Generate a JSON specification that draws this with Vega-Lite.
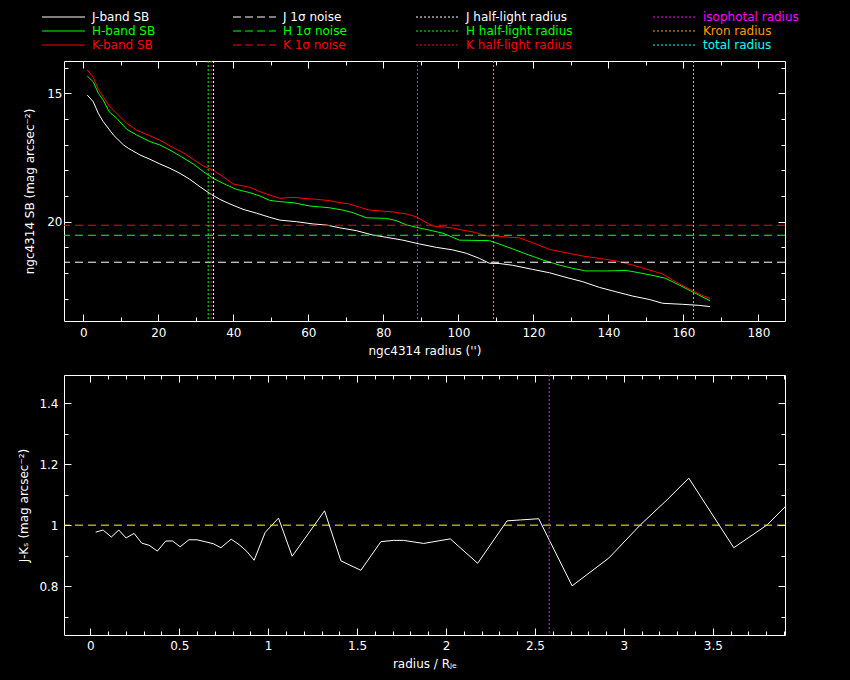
{
  "$schema": "https://vega.github.io/schema/vega-lite/v6.json",
  "background": "black",
  "padding": {"left": 17, "top": 10, "right": 68, "bottom": 12},
  "bounds": "flush",
  "spacing": 54,
  "config": {
    "view": {"stroke": "white", "strokeWidth": 1},
    "axis": {
      "domain": false, "grid": false, "tickColor": "white", "tickWidth": 1,
      "labelColor": "white", "titleColor": "white",
      "labelFont": "DejaVu Sans", "titleFont": "DejaVu Sans",
      "labelFontSize": 12, "titleFontSize": 12, "titleFontWeight": "normal",
      "labelOverlap": false, "labelFlush": false, "labelBound": false
    },
    "text": {"font": "DejaVu Sans"}
  },
  "datasets": {
    "sb": [
      {"band": "J", "r": 1.07, "sb": 15.07}, {"band": "J", "r": 2.66, "sb": 15.33}, {"band": "J", "r": 4.0, "sb": 15.78},
      {"band": "J", "r": 5.3, "sb": 16.10}, {"band": "J", "r": 8.0, "sb": 16.62}, {"band": "J", "r": 10.7, "sb": 17.01},
      {"band": "J", "r": 12.0, "sb": 17.14}, {"band": "J", "r": 15.1, "sb": 17.40}, {"band": "J", "r": 17.8, "sb": 17.57},
      {"band": "J", "r": 20.4, "sb": 17.75}, {"band": "J", "r": 23.1, "sb": 17.92}, {"band": "J", "r": 25.8, "sb": 18.12},
      {"band": "J", "r": 28.4, "sb": 18.35}, {"band": "J", "r": 31.1, "sb": 18.64}, {"band": "J", "r": 33.7, "sb": 18.90},
      {"band": "J", "r": 36.4, "sb": 19.13}, {"band": "J", "r": 39.1, "sb": 19.31}, {"band": "J", "r": 42.6, "sb": 19.52},
      {"band": "J", "r": 46.2, "sb": 19.67}, {"band": "J", "r": 49.7, "sb": 19.83}, {"band": "J", "r": 52.4, "sb": 19.94},
      {"band": "J", "r": 56.8, "sb": 20.00}, {"band": "J", "r": 61.3, "sb": 20.09}, {"band": "J", "r": 64.8, "sb": 20.13},
      {"band": "J", "r": 68.4, "sb": 20.24}, {"band": "J", "r": 72.8, "sb": 20.35}, {"band": "J", "r": 77.2, "sb": 20.52},
      {"band": "J", "r": 80.8, "sb": 20.61}, {"band": "J", "r": 85.2, "sb": 20.72}, {"band": "J", "r": 89.7, "sb": 20.87},
      {"band": "J", "r": 94.1, "sb": 21.00}, {"band": "J", "r": 98.5, "sb": 21.10}, {"band": "J", "r": 102.1, "sb": 21.23},
      {"band": "J", "r": 105.6, "sb": 21.43}, {"band": "J", "r": 108.3, "sb": 21.62}, {"band": "J", "r": 110.9, "sb": 21.63},
      {"band": "J", "r": 114.5, "sb": 21.70}, {"band": "J", "r": 119.8, "sb": 21.86}, {"band": "J", "r": 124.3, "sb": 21.99},
      {"band": "J", "r": 128.7, "sb": 22.17}, {"band": "J", "r": 133.2, "sb": 22.34}, {"band": "J", "r": 137.6, "sb": 22.56},
      {"band": "J", "r": 142.0, "sb": 22.73}, {"band": "J", "r": 146.5, "sb": 22.90}, {"band": "J", "r": 150.9, "sb": 23.03},
      {"band": "J", "r": 154.5, "sb": 23.18}, {"band": "J", "r": 159.8, "sb": 23.22}, {"band": "J", "r": 164.2, "sb": 23.26},
      {"band": "J", "r": 167.1, "sb": 23.31},
      {"band": "H", "r": 1.07, "sb": 14.33}, {"band": "H", "r": 2.66, "sb": 14.55}, {"band": "H", "r": 4.0, "sb": 15.00},
      {"band": "H", "r": 5.3, "sb": 15.26}, {"band": "H", "r": 6.9, "sb": 15.72}, {"band": "H", "r": 8.9, "sb": 15.97},
      {"band": "H", "r": 11.6, "sb": 16.40}, {"band": "H", "r": 14.2, "sb": 16.62}, {"band": "H", "r": 17.8, "sb": 16.88},
      {"band": "H", "r": 20.4, "sb": 17.01}, {"band": "H", "r": 23.1, "sb": 17.21}, {"band": "H", "r": 25.8, "sb": 17.44},
      {"band": "H", "r": 29.3, "sb": 17.75}, {"band": "H", "r": 32.0, "sb": 18.05}, {"band": "H", "r": 34.6, "sb": 18.31},
      {"band": "H", "r": 38.2, "sb": 18.57}, {"band": "H", "r": 40.8, "sb": 18.74}, {"band": "H", "r": 44.4, "sb": 18.87},
      {"band": "H", "r": 47.1, "sb": 19.00}, {"band": "H", "r": 49.7, "sb": 19.17}, {"band": "H", "r": 52.4, "sb": 19.22},
      {"band": "H", "r": 55.9, "sb": 19.26}, {"band": "H", "r": 60.4, "sb": 19.39}, {"band": "H", "r": 65.7, "sb": 19.46},
      {"band": "H", "r": 69.2, "sb": 19.55}, {"band": "H", "r": 71.9, "sb": 19.65}, {"band": "H", "r": 75.5, "sb": 19.85},
      {"band": "H", "r": 80.8, "sb": 19.87}, {"band": "H", "r": 83.5, "sb": 19.96}, {"band": "H", "r": 86.1, "sb": 20.12},
      {"band": "H", "r": 88.8, "sb": 20.22}, {"band": "H", "r": 92.3, "sb": 20.33}, {"band": "H", "r": 95.9, "sb": 20.45},
      {"band": "H", "r": 100.3, "sb": 20.72}, {"band": "H", "r": 108.3, "sb": 20.74}, {"band": "H", "r": 110.9, "sb": 20.87},
      {"band": "H", "r": 114.5, "sb": 21.06}, {"band": "H", "r": 118.1, "sb": 21.26}, {"band": "H", "r": 122.5, "sb": 21.49},
      {"band": "H", "r": 126.9, "sb": 21.69}, {"band": "H", "r": 130.5, "sb": 21.82}, {"band": "H", "r": 134.0, "sb": 21.92},
      {"band": "H", "r": 139.4, "sb": 21.92}, {"band": "H", "r": 144.7, "sb": 21.90}, {"band": "H", "r": 148.2, "sb": 21.99},
      {"band": "H", "r": 152.7, "sb": 22.12}, {"band": "H", "r": 155.3, "sb": 22.21}, {"band": "H", "r": 158.9, "sb": 22.47},
      {"band": "H", "r": 162.4, "sb": 22.73}, {"band": "H", "r": 167.1, "sb": 23.08},
      {"band": "K", "r": 1.07, "sb": 14.09}, {"band": "K", "r": 2.66, "sb": 14.38}, {"band": "K", "r": 4.0, "sb": 14.84},
      {"band": "K", "r": 5.3, "sb": 15.13}, {"band": "K", "r": 6.9, "sb": 15.49}, {"band": "K", "r": 8.9, "sb": 15.78},
      {"band": "K", "r": 11.6, "sb": 16.17}, {"band": "K", "r": 14.2, "sb": 16.43}, {"band": "K", "r": 17.8, "sb": 16.66},
      {"band": "K", "r": 20.4, "sb": 16.82}, {"band": "K", "r": 23.1, "sb": 17.05}, {"band": "K", "r": 26.6, "sb": 17.31},
      {"band": "K", "r": 29.3, "sb": 17.57}, {"band": "K", "r": 32.0, "sb": 17.83}, {"band": "K", "r": 34.6, "sb": 17.99},
      {"band": "K", "r": 37.3, "sb": 18.25}, {"band": "K", "r": 39.9, "sb": 18.53}, {"band": "K", "r": 44.4, "sb": 18.66},
      {"band": "K", "r": 47.1, "sb": 18.83}, {"band": "K", "r": 48.8, "sb": 18.92}, {"band": "K", "r": 52.4, "sb": 19.09},
      {"band": "K", "r": 55.9, "sb": 19.05}, {"band": "K", "r": 58.6, "sb": 19.09}, {"band": "K", "r": 62.2, "sb": 19.13},
      {"band": "K", "r": 65.7, "sb": 19.18}, {"band": "K", "r": 68.4, "sb": 19.26}, {"band": "K", "r": 71.0, "sb": 19.31},
      {"band": "K", "r": 73.7, "sb": 19.44}, {"band": "K", "r": 76.4, "sb": 19.55}, {"band": "K", "r": 79.9, "sb": 19.59},
      {"band": "K", "r": 82.6, "sb": 19.62}, {"band": "K", "r": 86.1, "sb": 19.70}, {"band": "K", "r": 88.8, "sb": 19.81},
      {"band": "K", "r": 90.6, "sb": 19.96}, {"band": "K", "r": 93.2, "sb": 20.17}, {"band": "K", "r": 95.9, "sb": 20.20},
      {"band": "K", "r": 98.5, "sb": 20.25}, {"band": "K", "r": 101.2, "sb": 20.33}, {"band": "K", "r": 103.9, "sb": 20.40},
      {"band": "K", "r": 107.4, "sb": 20.55}, {"band": "K", "r": 110.1, "sb": 20.56}, {"band": "K", "r": 113.6, "sb": 20.61},
      {"band": "K", "r": 116.3, "sb": 20.63}, {"band": "K", "r": 119.8, "sb": 20.82}, {"band": "K", "r": 124.3, "sb": 21.08},
      {"band": "K", "r": 128.7, "sb": 21.21}, {"band": "K", "r": 133.2, "sb": 21.34}, {"band": "K", "r": 137.6, "sb": 21.43},
      {"band": "K", "r": 142.0, "sb": 21.53}, {"band": "K", "r": 146.5, "sb": 21.69}, {"band": "K", "r": 150.9, "sb": 21.88},
      {"band": "K", "r": 154.5, "sb": 22.04}, {"band": "K", "r": 157.1, "sb": 22.27}, {"band": "K", "r": 160.7, "sb": 22.56},
      {"band": "K", "r": 164.2, "sb": 22.82}, {"band": "K", "r": 167.1, "sb": 22.99}
    ],
    "noise": [
      {"band": "J", "sb": 21.58}, {"band": "H", "sb": 20.53}, {"band": "K", "sb": 20.14}
    ],
    "radii": [
      {"band": "J", "r": 34.7}, {"band": "H", "r": 33.3}, {"band": "K", "r": 34.1},
      {"band": "iso", "r": 89.1}, {"band": "kron", "r": 109.4}, {"band": "total", "r": 162.7}
    ],
    "legend": [
      {"col": 0, "row": 1, "band": "J", "style": "solid", "label": "J-band SB"},
      {"col": 0, "row": 2, "band": "H", "style": "solid", "label": "H-band SB"},
      {"col": 0, "row": 3, "band": "K", "style": "solid", "label": "K-band SB"},
      {"col": 1, "row": 1, "band": "J", "style": "dashed", "label": "J 1σ noise"},
      {"col": 1, "row": 2, "band": "H", "style": "dashed", "label": "H 1σ noise"},
      {"col": 1, "row": 3, "band": "K", "style": "dashed", "label": "K 1σ noise"},
      {"col": 2, "row": 1, "band": "J", "style": "dotted", "label": "J half-light radius"},
      {"col": 2, "row": 2, "band": "H", "style": "dotted", "label": "H half-light radius"},
      {"col": 2, "row": 3, "band": "K", "style": "dotted", "label": "K half-light radius"},
      {"col": 3, "row": 1, "band": "iso", "style": "dotted", "label": "isophotal radius"},
      {"col": 3, "row": 2, "band": "kron", "style": "dotted", "label": "Kron radius"},
      {"col": 3, "row": 3, "band": "total", "style": "dotted", "label": "total radius"}
    ],
    "color": [
      {"rr": 0.030, "jk": 0.977}, {"rr": 0.072, "jk": 0.984}, {"rr": 0.118, "jk": 0.961}, {"rr": 0.160, "jk": 0.984},
      {"rr": 0.201, "jk": 0.958}, {"rr": 0.246, "jk": 0.973}, {"rr": 0.289, "jk": 0.941}, {"rr": 0.331, "jk": 0.934},
      {"rr": 0.377, "jk": 0.915}, {"rr": 0.424, "jk": 0.948}, {"rr": 0.463, "jk": 0.948}, {"rr": 0.505, "jk": 0.929},
      {"rr": 0.554, "jk": 0.952}, {"rr": 0.599, "jk": 0.952}, {"rr": 0.644, "jk": 0.946}, {"rr": 0.692, "jk": 0.939},
      {"rr": 0.734, "jk": 0.926}, {"rr": 0.792, "jk": 0.954}, {"rr": 0.837, "jk": 0.936}, {"rr": 0.880, "jk": 0.914},
      {"rr": 0.921, "jk": 0.885}, {"rr": 0.983, "jk": 0.976}, {"rr": 1.058, "jk": 1.023}, {"rr": 1.135, "jk": 0.898},
      {"rr": 1.317, "jk": 1.047}, {"rr": 1.409, "jk": 0.883}, {"rr": 1.521, "jk": 0.852}, {"rr": 1.634, "jk": 0.946},
      {"rr": 1.705, "jk": 0.950}, {"rr": 1.762, "jk": 0.950}, {"rr": 1.874, "jk": 0.940}, {"rr": 2.024, "jk": 0.955},
      {"rr": 2.178, "jk": 0.875}, {"rr": 2.343, "jk": 1.014}, {"rr": 2.418, "jk": 1.017}, {"rr": 2.521, "jk": 1.021},
      {"rr": 2.709, "jk": 0.801}, {"rr": 2.915, "jk": 0.892}, {"rr": 3.093, "jk": 1.001}, {"rr": 3.243, "jk": 1.083},
      {"rr": 3.365, "jk": 1.154}, {"rr": 3.618, "jk": 0.926}, {"rr": 3.806, "jk": 1.001}, {"rr": 4.0, "jk": 1.115}
    ]
  },
  "vconcat": [
    {
      "width": 721,
      "height": 260,
      "layer": [
        {
          "data": {"name": "sb"},
          "mark": {"type": "line", "strokeWidth": 1},
          "encoding": {
            "x": {
              "field": "r", "type": "quantitative",
              "scale": {"domain": [-5.15, 187.1], "nice": false, "zero": false},
              "axis": {
                "orient": "bottom", "title": "ngc4314 radius ('')",
                "values": [0, 10, 20, 30, 40, 50, 60, 70, 80, 90, 100, 110, 120, 130, 140, 150, 160, 170, 180],
                "labelExpr": "datum.value % 20 === 0 ? datum.label : ''",
                "tickSize": {"condition": {"test": "datum.value % 20 === 0", "value": -7}, "value": -4},
                "labelPadding": 13, "titlePadding": 4
              }
            },
            "y": {
              "field": "sb", "type": "quantitative",
              "scale": {"domain": [13.74, 23.87], "reverse": true, "nice": false, "zero": false},
              "axis": {
                "orient": "left", "title": "ngc4314 SB (mag arcsec⁻²)",
                "values": [14, 15, 16, 17, 18, 19, 20, 21, 22, 23],
                "labelExpr": "datum.value % 5 === 0 ? datum.label : ''",
                "tickSize": {"condition": {"test": "datum.value % 5 === 0", "value": -7}, "value": -4},
                "labelPadding": 9, "titlePadding": 10
              }
            },
            "color": {
              "field": "band", "type": "nominal",
              "scale": {"domain": ["J", "H", "K", "iso", "kron", "total"], "range": ["#ffffff", "#00ff00", "#ff0000", "#ff00ff", "#ff9900", "#00ffff"]},
              "legend": null
            }
          }
        },
        {
          "data": {"name": "noise"},
          "mark": {"type": "rule", "strokeWidth": 1, "strokeDash": [8, 5]},
          "encoding": {
            "y": {
              "field": "sb", "type": "quantitative",
              "scale": {"domain": [13.74, 23.87], "reverse": true, "nice": false, "zero": false},
              "axis": {
                "orient": "right", "title": null, "labels": false,
                "values": [14, 15, 16, 17, 18, 19, 20, 21, 22, 23],
                "tickSize": {"condition": {"test": "datum.value % 5 === 0", "value": -7}, "value": -4}
              }
            },
            "color": {
              "field": "band", "type": "nominal",
              "scale": {"domain": ["J", "H", "K", "iso", "kron", "total"], "range": ["#ffffff", "#00ff00", "#ff0000", "#ff00ff", "#ff9900", "#00ffff"]},
              "legend": null
            }
          }
        },
        {
          "data": {"name": "radii"},
          "mark": {"type": "rule", "strokeWidth": 1, "strokeDash": [2, 2]},
          "encoding": {
            "x": {
              "field": "r", "type": "quantitative",
              "scale": {"domain": [-5.15, 187.1], "nice": false, "zero": false},
              "axis": {
                "orient": "top", "title": null, "labels": false,
                "values": [0, 10, 20, 30, 40, 50, 60, 70, 80, 90, 100, 110, 120, 130, 140, 150, 160, 170, 180],
                "tickSize": {"condition": {"test": "datum.value % 20 === 0", "value": -7}, "value": -4}
              }
            },
            "color": {
              "field": "band", "type": "nominal",
              "scale": {"domain": ["J", "H", "K", "iso", "kron", "total"], "range": ["#ffffff", "#00ff00", "#ff0000", "#ff00ff", "#ff9900", "#00ffff"]},
              "legend": null
            }
          }
        },
        {
          "data": {"name": "legend"},
          "mark": {"type": "rule", "strokeWidth": 1, "x2Offset": 43},
          "encoding": {
            "x": {"field": "col", "type": "quantitative", "scale": {"domain": [0, 1, 2, 3], "range": [-22, 169, 352, 589], "zero": false, "nice": false}, "axis": null},
            "x2": {"field": "col"},
            "y": {"field": "row", "type": "quantitative", "scale": {"domain": [1, 3], "range": [-44, -16], "zero": false, "nice": false}, "axis": null},
            "color": {
              "field": "band", "type": "nominal",
              "scale": {"domain": ["J", "H", "K", "iso", "kron", "total"], "range": ["#ffffff", "#00ff00", "#ff0000", "#ff00ff", "#ff9900", "#00ffff"]},
              "legend": null
            },
            "strokeDash": {
              "field": "style", "type": "nominal",
              "scale": {"domain": ["solid", "dashed", "dotted"], "range": [[1, 0], [8, 4], [2, 2]]},
              "legend": null
            }
          }
        },
        {
          "data": {"name": "legend"},
          "mark": {"type": "text", "align": "left", "baseline": "middle", "dx": 50, "fontSize": 12, "font": "DejaVu Sans"},
          "encoding": {
            "x": {"field": "col", "type": "quantitative", "scale": {"domain": [0, 1, 2, 3], "range": [-22, 169, 352, 589], "zero": false, "nice": false}, "axis": null},
            "y": {"field": "row", "type": "quantitative", "scale": {"domain": [1, 3], "range": [-44, -16], "zero": false, "nice": false}, "axis": null},
            "text": {"field": "label"},
            "color": {
              "field": "band", "type": "nominal",
              "scale": {"domain": ["J", "H", "K", "iso", "kron", "total"], "range": ["#ffffff", "#00ff00", "#ff0000", "#ff00ff", "#ff9900", "#00ffff"]},
              "legend": null
            }
          }
        }
      ],
      "resolve": {
        "scale": {"x": "independent", "y": "independent"},
        "axis": {"x": "independent", "y": "independent"}
      }
    },
    {
      "width": 721,
      "height": 260,
      "layer": [
        {
          "data": {"name": "color"},
          "mark": {"type": "line", "color": "white", "strokeWidth": 1, "clip": true},
          "encoding": {
            "x": {
              "field": "rr", "type": "quantitative",
              "scale": {"domain": [-0.148, 3.906], "nice": false, "zero": false},
              "axis": {
                "orient": "bottom", "title": "radius / Rⱼₑ",
                "values": [0, 0.1, 0.2, 0.3, 0.4, 0.5, 0.6, 0.7, 0.8, 0.9, 1, 1.1, 1.2, 1.3, 1.4, 1.5, 1.6, 1.7, 1.8, 1.9, 2, 2.1, 2.2, 2.3, 2.4, 2.5, 2.6, 2.7, 2.8, 2.9, 3, 3.1, 3.2, 3.3, 3.4, 3.5, 3.6, 3.7, 3.8, 3.9],
                "labelExpr": "abs(datum.value*2 - round(datum.value*2)) < 0.001 ? '' + datum.value : ''",
                "tickSize": {"condition": {"test": "abs(datum.value*2 - round(datum.value*2)) < 0.001", "value": -7}, "value": -4},
                "labelPadding": 12, "titlePadding": 4
              }
            },
            "y": {
              "field": "jk", "type": "quantitative",
              "scale": {"domain": [0.64, 1.492], "nice": false, "zero": false},
              "axis": {
                "orient": "left", "title": "J-Kₛ (mag arcsec⁻²)",
                "values": [0.7, 0.8, 0.9, 1, 1.1, 1.2, 1.3, 1.4],
                "labelExpr": "abs(datum.value*5 - round(datum.value*5)) < 0.001 ? '' + datum.value : ''",
                "tickSize": {"condition": {"test": "abs(datum.value*5 - round(datum.value*5)) < 0.001", "value": -7}, "value": -4},
                "labelPadding": 13, "titlePadding": 8
              }
            }
          }
        },
        {
          "data": {"values": [{}]},
          "mark": {"type": "rule", "color": "#ffff00", "strokeWidth": 1, "strokeDash": [8, 5]},
          "encoding": {
            "y": {
              "datum": 1, "type": "quantitative",
              "scale": {"domain": [0.64, 1.492], "nice": false, "zero": false},
              "axis": {
                "orient": "right", "title": null, "labels": false,
                "values": [0.7, 0.8, 0.9, 1, 1.1, 1.2, 1.3, 1.4],
                "tickSize": {"condition": {"test": "abs(datum.value*5 - round(datum.value*5)) < 0.001", "value": -7}, "value": -4}
              }
            }
          }
        },
        {
          "data": {"values": [{}]},
          "mark": {"type": "rule", "color": "#ff00ff", "strokeWidth": 1, "strokeDash": [2, 2]},
          "encoding": {
            "x": {
              "datum": 2.58, "type": "quantitative",
              "scale": {"domain": [-0.148, 3.906], "nice": false, "zero": false},
              "axis": {
                "orient": "top", "title": null, "labels": false,
                "values": [0, 0.1, 0.2, 0.3, 0.4, 0.5, 0.6, 0.7, 0.8, 0.9, 1, 1.1, 1.2, 1.3, 1.4, 1.5, 1.6, 1.7, 1.8, 1.9, 2, 2.1, 2.2, 2.3, 2.4, 2.5, 2.6, 2.7, 2.8, 2.9, 3, 3.1, 3.2, 3.3, 3.4, 3.5, 3.6, 3.7, 3.8, 3.9],
                "tickSize": {"condition": {"test": "abs(datum.value*2 - round(datum.value*2)) < 0.001", "value": -7}, "value": -4}
              }
            }
          }
        }
      ],
      "resolve": {"axis": {"x": "independent", "y": "independent"}}
    }
  ]
}
